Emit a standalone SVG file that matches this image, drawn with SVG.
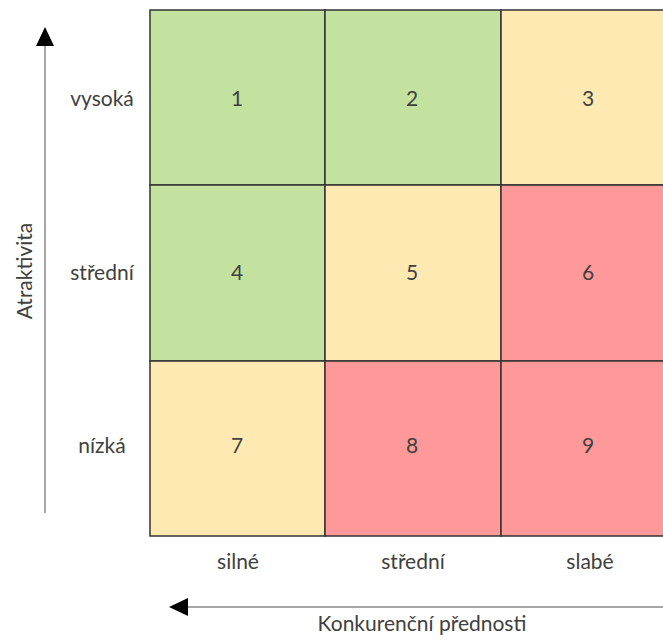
<svg xmlns="http://www.w3.org/2000/svg" width="663" height="640" viewBox="0 0 663 640">
<style>
text{font-family:Lato,"Open Sans","Liberation Sans",sans-serif;font-size:21px;fill:#404040;text-anchor:middle}
.c{stroke:#333;stroke-width:1.5}
.g{fill:#C3E19F}.y{fill:#FFE9B3}.r{fill:#FF9999}
.ax{stroke:#888;stroke-width:1.5;fill:none}
</style>
<g id="connectors">
<line class="ax" x1="45" y1="513" x2="45" y2="44"/>
<path d="M45,27L54,46L36,46z" fill="#000"/>
<line class="ax" x1="663" y1="607" x2="186" y2="607"/>
<path d="M169,607L188,598L188,616z" fill="#000"/>
</g>
<g id="c1"><rect class="c g" x="150" y="10" width="175" height="175"/><text x="237" y="106">1</text></g>
<g id="c2"><rect class="c g" x="325" y="10" width="176" height="175"/><text x="412" y="106">2</text></g>
<g id="c3"><rect class="c y" x="501" y="10" width="170" height="175"/><text x="588" y="106">3</text></g>
<g id="c4"><rect class="c g" x="150" y="185" width="175" height="176"/><text x="237" y="280">4</text></g>
<g id="c5"><rect class="c y" x="325" y="185" width="176" height="176"/><text x="412" y="280">5</text></g>
<g id="c6"><rect class="c r" x="501" y="185" width="170" height="176"/><text x="588" y="280">6</text></g>
<g id="c7"><rect class="c y" x="150" y="361" width="175" height="175"/><text x="237" y="453">7</text></g>
<g id="c8"><rect class="c r" x="325" y="361" width="176" height="175"/><text x="412" y="453">8</text></g>
<g id="c9"><rect class="c r" x="501" y="361" width="170" height="175"/><text x="588" y="453">9</text></g>
<g id="labels">
<text x="102" y="106">vysoká</text>
<text x="102" y="280">střední</text>
<text x="102" y="453">nízká</text>
<text x="238" y="569">silné</text>
<text x="413" y="569">střední</text>
<text x="590" y="569">slabé</text>
<text x="422" y="631">Konkurenční přednosti</text>
<text transform="translate(32,271) rotate(-90)">Atraktivita</text>
</g>
</svg>
